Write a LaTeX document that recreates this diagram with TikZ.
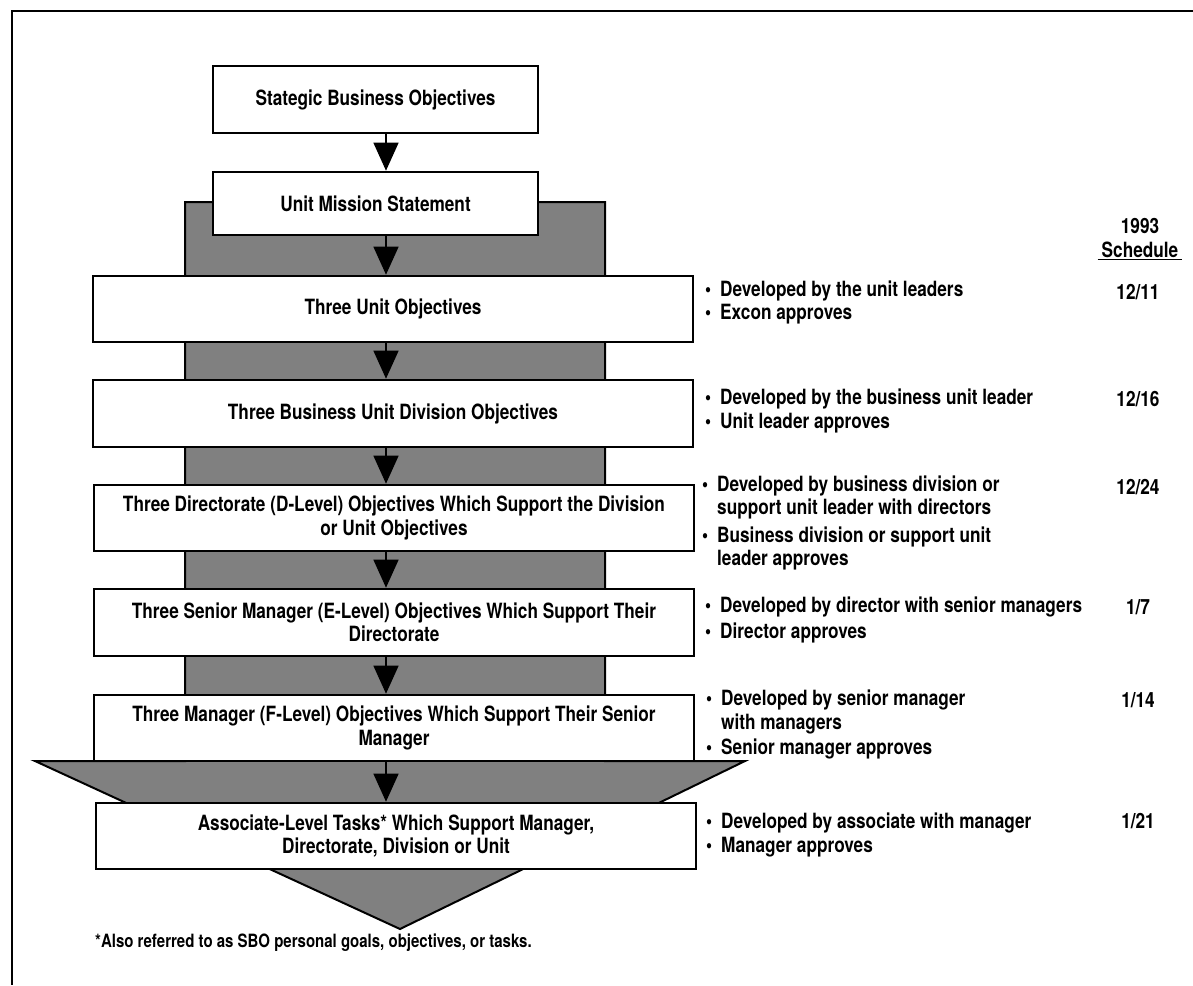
\documentclass[tikz,border=0pt]{standalone}
\usepackage{fontspec}
\setmainfont{TeX Gyre Heros}[FakeStretch=0.82]
\usetikzlibrary{arrows.meta}
\newcommand{\bul}{\makebox[15pt][l]{\textbullet}}
\newcommand{\ind}{\hspace*{15pt}}

\begin{document}
\begin{tikzpicture}[x=1pt,y=-1pt]
                \tikzstyle{every node}= [inner sep=0pt, font=\fontsize{21}{23.5}\selectfont\bfseries]
                \tikzstyle{box}= [draw=black, fill=white, line width=2.6pt, align=center, minimum width=600, minimum height=66]
                \tikzstyle{note}= [anchor=west, align=left]
                \tikzstyle{arr}= [black, line width=1.3pt, -{Triangle[width=25pt,length=28pt]}]

                \useasboundingbox (0,0) rectangle (1193,985);
                \draw [line width=1.8pt] (1193,11) -- (12,11) -- (12,985);
                % gray arrow behind the boxes
                \filldraw [fill=black!50, draw=black, line width=2pt] (185,202) -- (605,202) -- (605,761) -- (745,761)
                        -- (400,929) -- (35,761) -- (185,761) -- cycle;

                \node (1) [box, minimum width=325, minimum height=67] at (375.5,99.5) {Stategic Business Objectives};
                \node (2) [box, minimum width=325, minimum height=63] at (375.5,203.5) {Unit Mission Statement};
		        \node (3) [box] at (393,309) {Three Unit Objectives};
		        \node (4) [box, minimum height=67] at (393,413.5) {Three Business Unit Division Objectives};
		        \node (5) [box] at (394,518) {Three Directorate (D-Level) Objectives Which Support the Division\\or Unit Objectives};
		        \node (6) [box, minimum height=67] at (394,622.5) {Three Senior Manager (E-Level) Objectives Which Support Their\\Directorate};
		        \node (7) [box] at (394,728) {Three Manager (F-Level) Objectives Which Support Their Senior\hspace{20pt}\\Manager\hspace{20pt}};
		        \node (8) [box] at (396,836) {Associate-Level Tasks* Which Support Manager,\\Directorate, Division or Unit};

                % who develops / approves
		        \node (n3) [note] at (705,302.5) {\bul Developed by the unit leaders\\\bul Excon approves};
		        \node (n4) [note] at (705,411) {\bul Developed by the business unit leader\\\bul Unit leader approves};
		        \node (n5) [note] at (702,523) {\bul Developed by business division or\\\ind support unit leader with directors\\[4pt]
		                                         \bul Business division or support unit\\\ind leader approves};
		        \node (n6) [note] at (705,620) {\bul Developed by director with senior managers\\[2pt]\bul Director approves};
		        \node (n7) [note] at (706,724.5) {\bul Developed by senior manager\\\ind with managers\\[2pt]\bul Senior manager approves};
		        \node (n8) [note] at (706,835) {\bul Developed by associate with manager\\\bul Manager approves};

                % schedule
		        \node (h) [align=center] at (1140,239) {1993\\\underline{\hspace{4pt}Schedule\hspace{4pt}}};
		        \node (d3) at (1138,292) {12/11};
		        \node (d4) at (1138,399) {12/16};
		        \node (d5) at (1138,487) {12/24};
		        \node (d6) at (1138,607) {1/7};
		        \node (d7) at (1138,700) {1/14};
		        \node (d8) at (1138,821) {1/21};

		        \node (fn) [anchor=west, font=\fontsize{18.3}{20}\selectfont\bfseries] at (95,943) {*Also referred to as SBO personal goals, objectives, or tasks.};

                \coordinate (ax) at (386,0);
                 \path [arr] (1.south -| ax) edge (2.north -| ax)
		                     (2.south -| ax) edge (3.north -| ax)
		                     (3.south -| ax) edge (4.north -| ax)
		                     (4.south -| ax) edge (5.north -| ax)
		                     (5.south -| ax) edge (6.north -| ax)
		                     (6.south -| ax) edge (7.north -| ax)
		                     (7.south -| ax) edge (8.north -| ax);
\end{tikzpicture}
\end{document}
